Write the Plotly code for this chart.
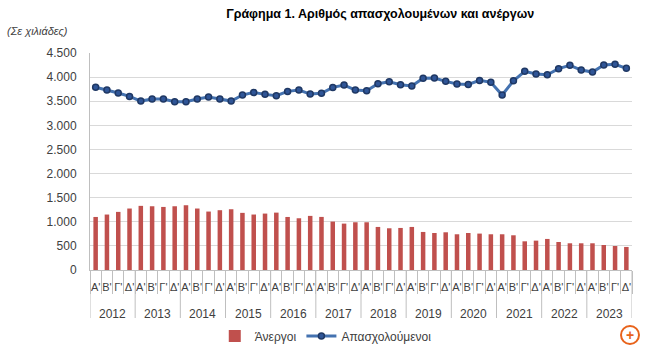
import plotly.graph_objects as go

years = [str(y) for y in range(2012, 2024)]
quarters = ["Α'", "Β'", "Γ'", "Δ'"]

unemployed = [1100, 1150, 1205, 1275, 1330, 1322, 1308, 1322, 1343, 1275, 1212, 1240,
              1260, 1185, 1150, 1170, 1190, 1100, 1073, 1122, 1101, 1004, 962, 990,
              990, 893, 865, 872, 893, 789, 768, 782, 741, 768, 755, 741,
              741, 720, 595, 609, 644, 581, 554, 554, 554, 519, 498, 478]

employed = [3790, 3732, 3669, 3600, 3503, 3545, 3545, 3489, 3489, 3545, 3586, 3545,
            3503, 3628, 3683, 3642, 3614, 3704, 3732, 3648, 3665, 3787, 3835, 3732,
            3718, 3863, 3905, 3842, 3815, 3974, 3981, 3912, 3856, 3849, 3932, 3891,
            3628, 3925, 4119, 4064, 4050, 4175, 4244, 4147, 4105, 4251, 4265, 4182]

cats = [f"{y} {q}" for y in years for q in quarters]
qlabels = [q for _ in years for q in quarters]

FONT = "Liberation Sans"
GRAY = "#BFBFBF"

# pixel geometry of plot area
L, R, T, B = 90, 18, 53, 83
PH = 353 - T - B

def py(px):
    return (353 - B - px) / PH

fig = go.Figure()
fig.add_trace(go.Bar(
    x=cats, y=unemployed, name="Άνεργοι",
    marker=dict(color="#C0504D", line=dict(width=0)),
))
fig.add_trace(go.Scatter(
    x=cats, y=employed, name="Απασχολούμενοι",
    mode="lines+markers",
    line=dict(color="#4472B0", width=3),
    marker=dict(size=6, color="#2F5597", line=dict(color="#1F3864", width=1.5)),
))

annotations = [
    dict(text="<i>(Σε χιλιάδες)</i>", xref="paper", yref="paper",
         x=(5 - L) / 542, y=py(31), xanchor="left", yanchor="middle",
         showarrow=False, font=dict(family=FONT, size=11, color="#404040")),
    dict(text="<b>+</b>", xref="paper", yref="paper",
         x=(630 - L) / 542, y=py(335), xanchor="center", yanchor="middle",
         showarrow=False, font=dict(family=FONT, size=14, color="#E8631B")),
]
shapes = [
    dict(type="circle", xref="paper", yref="paper",
         x0=(621 - L) / 542, x1=(639 - L) / 542,
         y0=py(344), y1=py(326),
         line=dict(color="#E8631B", width=2)),
]
for i, y in enumerate(years):
    annotations.append(dict(text=y, xref="x", yref="paper", x=i * 4 + 1.5, y=py(314),
                            xanchor="center", yanchor="middle", showarrow=False,
                            font=dict(family=FONT, size=12, color="#404040")))
for i in range(len(years) + 1):
    shapes.append(dict(type="line", xref="x", yref="paper", x0=i * 4 - 0.5, x1=i * 4 - 0.5,
                       y0=0, y1=py(318), line=dict(color=GRAY, width=1)))

fig.update_layout(
    width=650, height=353,
    margin=dict(l=L, r=R, t=T, b=B, autoexpand=False),
    paper_bgcolor="white", plot_bgcolor="white",
    bargap=0.6,
    separators=",.",
    font=dict(family=FONT, size=11, color="#404040"),
    title=dict(text="<b>Γράφημα 1. Αριθμός απασχολουμένων και ανέργων</b>",
               x=0.585, xanchor="center", y=0.96, yanchor="middle",
               font=dict(family=FONT, size=12.5, color="#000000")),
    showlegend=True,
    legend=dict(orientation="h", x=0.435, xanchor="center", y=py(336), yanchor="middle",
                font=dict(family=FONT, size=12, color="#404040"),
                bgcolor="rgba(0,0,0,0)"),
    xaxis=dict(type="category", range=[-0.5, len(cats) - 0.5], showgrid=False,
               showline=True, automargin=False,
               linecolor=GRAY, linewidth=1, ticks="outside", tickson="boundaries",
               tickcolor=GRAY, ticklen=23, tickangle=0,
               tickmode="array", tickvals=cats, ticktext=qlabels,
               ticklabelstandoff=7,
               tickfont=dict(family=FONT, size=11, color="#404040")),
    yaxis=dict(range=[0, 4500], dtick=500, tickformat=",.0f", showgrid=True,
               automargin=False,
               gridcolor="#D9D9D9", gridwidth=1, showline=True, linecolor=GRAY,
               zeroline=False, ticks="", ticklabelstandoff=10,
               tickfont=dict(family=FONT, size=12, color="#404040")),
    annotations=annotations,
    shapes=shapes,
)

fig.write_html("out.html")
